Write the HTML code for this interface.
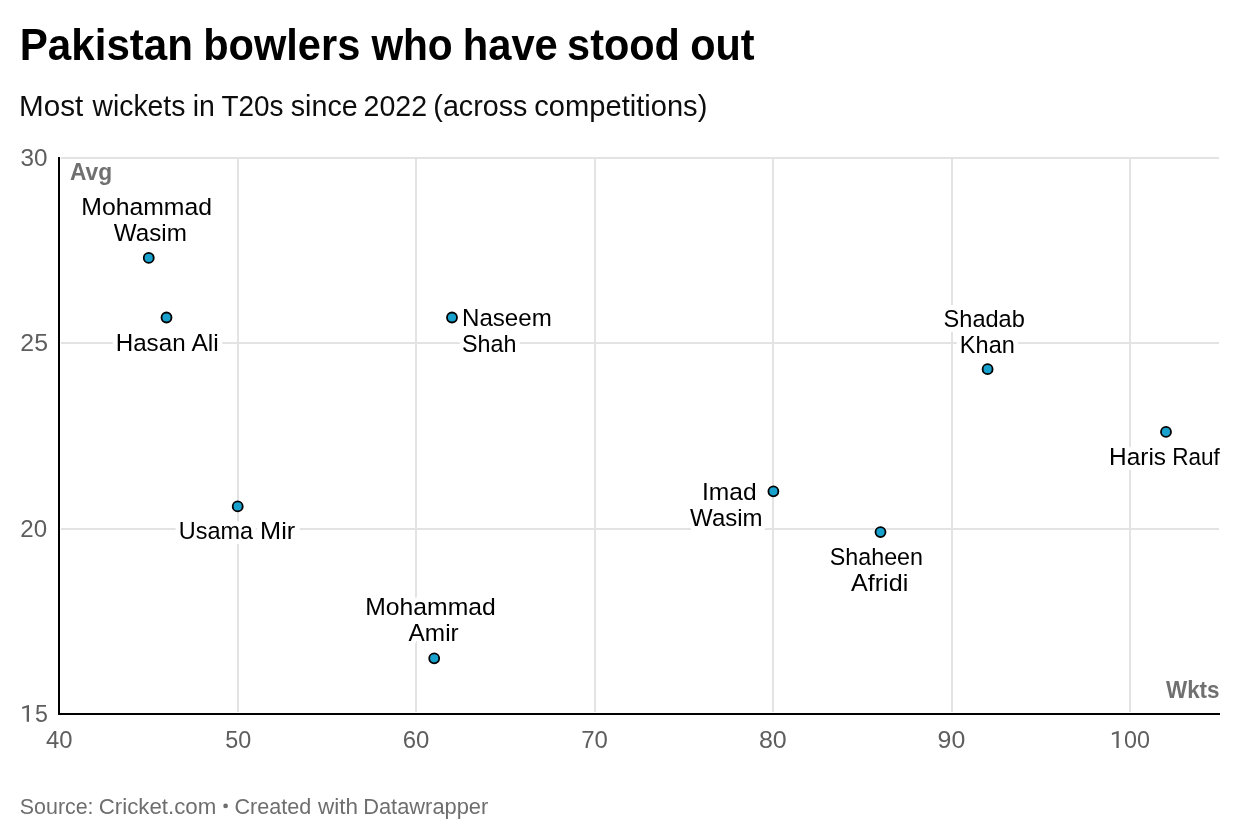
<!DOCTYPE html><html><head><meta charset="utf-8"><style>html,body{margin:0;padding:0;background:#fff;}svg{display:block;will-change:transform}text{font-family:"Liberation Sans",sans-serif;}</style></head><body>
<svg width="1240" height="840" viewBox="0 0 1240 840">
<rect width="1240" height="840" fill="#fff"/>
<rect x="61" y="157" width="1158" height="2" fill="#e3e3e3"/>
<rect x="61" y="342" width="1158" height="2" fill="#e3e3e3"/>
<rect x="61" y="528" width="1158" height="2" fill="#e3e3e3"/>
<rect x="237" y="159" width="2" height="553" fill="#e3e3e3"/>
<rect x="415" y="159" width="2" height="553" fill="#e3e3e3"/>
<rect x="594" y="159" width="2" height="553" fill="#e3e3e3"/>
<rect x="772" y="159" width="2" height="553" fill="#e3e3e3"/>
<rect x="951" y="159" width="2" height="553" fill="#e3e3e3"/>
<rect x="1129" y="159" width="2" height="553" fill="#e3e3e3"/>
<text x="81.35" y="215.10" font-size="24.3" textLength="130.67" lengthAdjust="spacingAndGlyphs" fill="#fff" stroke="#fff" stroke-width="10" stroke-linejoin="round">Mohammad</text>
<text x="113.83" y="240.70" font-size="24.3" textLength="73.07" lengthAdjust="spacingAndGlyphs" fill="#fff" stroke="#fff" stroke-width="10" stroke-linejoin="round">Wasim</text>
<text x="115.71" y="351.00" font-size="24.3" textLength="69.89" lengthAdjust="spacingAndGlyphs" fill="#fff" stroke="#fff" stroke-width="10" stroke-linejoin="round">Hasan</text>
<text x="191.42" y="351.00" font-size="24.3" textLength="27.45" lengthAdjust="spacingAndGlyphs" fill="#fff" stroke="#fff" stroke-width="10" stroke-linejoin="round">Ali</text>
<text x="462.00" y="326.00" font-size="24.3" textLength="89.77" lengthAdjust="spacingAndGlyphs" fill="#fff" stroke="#fff" stroke-width="10" stroke-linejoin="round">Naseem</text>
<text x="462.04" y="352.00" font-size="24.3" textLength="54.48" lengthAdjust="spacingAndGlyphs" fill="#fff" stroke="#fff" stroke-width="10" stroke-linejoin="round">Shah</text>
<text x="178.87" y="538.90" font-size="24.3" textLength="74.25" lengthAdjust="spacingAndGlyphs" fill="#fff" stroke="#fff" stroke-width="10" stroke-linejoin="round">Usama</text>
<text x="260.10" y="538.90" font-size="24.3" textLength="35.12" lengthAdjust="spacingAndGlyphs" fill="#fff" stroke="#fff" stroke-width="10" stroke-linejoin="round">Mir</text>
<text x="365.28" y="614.80" font-size="24.3" textLength="130.45" lengthAdjust="spacingAndGlyphs" fill="#fff" stroke="#fff" stroke-width="10" stroke-linejoin="round">Mohammad</text>
<text x="408.59" y="641.00" font-size="24.3" textLength="50.08" lengthAdjust="spacingAndGlyphs" fill="#fff" stroke="#fff" stroke-width="10" stroke-linejoin="round">Amir</text>
<text x="701.93" y="499.80" font-size="24.3" textLength="54.62" lengthAdjust="spacingAndGlyphs" fill="#fff" stroke="#fff" stroke-width="10" stroke-linejoin="round">Imad</text>
<text x="690.12" y="525.90" font-size="24.3" textLength="72.47" lengthAdjust="spacingAndGlyphs" fill="#fff" stroke="#fff" stroke-width="10" stroke-linejoin="round">Wasim</text>
<text x="829.82" y="564.70" font-size="24.3" textLength="93.17" lengthAdjust="spacingAndGlyphs" fill="#fff" stroke="#fff" stroke-width="10" stroke-linejoin="round">Shaheen</text>
<text x="850.97" y="590.80" font-size="24.3" textLength="57.29" lengthAdjust="spacingAndGlyphs" fill="#fff" stroke="#fff" stroke-width="10" stroke-linejoin="round">Afridi</text>
<text x="943.54" y="326.60" font-size="24.3" textLength="81.33" lengthAdjust="spacingAndGlyphs" fill="#fff" stroke="#fff" stroke-width="10" stroke-linejoin="round">Shadab</text>
<text x="959.87" y="353.00" font-size="24.3" textLength="54.96" lengthAdjust="spacingAndGlyphs" fill="#fff" stroke="#fff" stroke-width="10" stroke-linejoin="round">Khan</text>
<text x="1109.10" y="464.90" font-size="24.3" textLength="56.96" lengthAdjust="spacingAndGlyphs" fill="#fff" stroke="#fff" stroke-width="10" stroke-linejoin="round">Haris</text>
<text x="1172.18" y="464.90" font-size="24.3" textLength="47.64" lengthAdjust="spacingAndGlyphs" fill="#fff" stroke="#fff" stroke-width="10" stroke-linejoin="round">Rauf</text>
<rect x="58" y="157" width="2" height="558" fill="#000"/>
<rect x="58" y="713" width="1162" height="2" fill="#000"/>
<circle cx="148.75" cy="257.9" r="5" fill="#18a1cd" stroke="#000" stroke-width="1.8"/>
<circle cx="166.5" cy="317.5" r="5" fill="#18a1cd" stroke="#000" stroke-width="1.8"/>
<circle cx="452.0" cy="317.5" r="5" fill="#18a1cd" stroke="#000" stroke-width="1.8"/>
<circle cx="237.7" cy="506.4" r="5" fill="#18a1cd" stroke="#000" stroke-width="1.8"/>
<circle cx="434.2" cy="658.3" r="5" fill="#18a1cd" stroke="#000" stroke-width="1.8"/>
<circle cx="773.4" cy="491.3" r="5" fill="#18a1cd" stroke="#000" stroke-width="1.8"/>
<circle cx="880.5" cy="532.1" r="5" fill="#18a1cd" stroke="#000" stroke-width="1.8"/>
<circle cx="987.6" cy="369.2" r="5" fill="#18a1cd" stroke="#000" stroke-width="1.8"/>
<circle cx="1166.0" cy="431.9" r="5" fill="#18a1cd" stroke="#000" stroke-width="1.8"/>
<circle cx="225.6" cy="805.9" r="2.35" fill="#6e6e6e"/>
<path d="M29.00,705.00 L29.00,721.75 L26.70,721.75 L26.70,707.50 L22.40,709.00 L22.10,707.10 L28.40,705.00 Z" fill="#5e5e5e"/>
<path d="M1118.70,731.00 L1118.70,748.00 L1116.40,748.00 L1116.40,733.50 L1112.10,735.00 L1111.80,733.10 L1118.10,731.00 Z" fill="#5e5e5e"/>
<text x="19.79" y="60.00" font-size="45.0" font-weight="bold" textLength="173.25" lengthAdjust="spacingAndGlyphs" fill="#000000">Pakistan</text>
<text x="203.14" y="60.00" font-size="45.0" font-weight="bold" textLength="157.13" lengthAdjust="spacingAndGlyphs" fill="#000000">bowlers</text>
<text x="371.41" y="60.00" font-size="45.0" font-weight="bold" textLength="81.25" lengthAdjust="spacingAndGlyphs" fill="#000000">who</text>
<text x="462.78" y="60.00" font-size="45.0" font-weight="bold" textLength="95.03" lengthAdjust="spacingAndGlyphs" fill="#000000">have</text>
<text x="567.11" y="60.00" font-size="45.0" font-weight="bold" textLength="112.80" lengthAdjust="spacingAndGlyphs" fill="#000000">stood</text>
<text x="690.25" y="60.00" font-size="45.0" font-weight="bold" textLength="64.35" lengthAdjust="spacingAndGlyphs" fill="#000000">out</text>
<text x="19.04" y="116.00" font-size="28.8" textLength="64.23" lengthAdjust="spacingAndGlyphs" fill="#0d0d0d">Most</text>
<text x="92.57" y="116.00" font-size="28.8" textLength="92.84" lengthAdjust="spacingAndGlyphs" fill="#0d0d0d">wickets</text>
<text x="192.79" y="116.00" font-size="28.8" textLength="22.18" lengthAdjust="spacingAndGlyphs" fill="#0d0d0d">in</text>
<text x="221.40" y="116.00" font-size="28.8" textLength="62.09" lengthAdjust="spacingAndGlyphs" fill="#0d0d0d">T20s</text>
<text x="290.78" y="116.00" font-size="28.8" textLength="66.88" lengthAdjust="spacingAndGlyphs" fill="#0d0d0d">since</text>
<text x="363.56" y="116.00" font-size="28.8" textLength="63.53" lengthAdjust="spacingAndGlyphs" fill="#0d0d0d">2022</text>
<text x="433.33" y="116.00" font-size="28.8" textLength="94.08" lengthAdjust="spacingAndGlyphs" fill="#0d0d0d">(across</text>
<text x="534.31" y="116.00" font-size="28.8" textLength="173.06" lengthAdjust="spacingAndGlyphs" fill="#0d0d0d">competitions)</text>
<text x="20.40" y="166.00" font-size="24.3" textLength="27.00" lengthAdjust="spacingAndGlyphs" fill="#5e5e5e">30</text>
<text x="20.34" y="351.00" font-size="24.3" textLength="27.66" lengthAdjust="spacingAndGlyphs" fill="#5e5e5e">25</text>
<text x="20.24" y="536.90" font-size="24.3" textLength="26.80" lengthAdjust="spacingAndGlyphs" fill="#5e5e5e">20</text>
<text x="34.94" y="721.75" font-size="24.3" textLength="12.91" lengthAdjust="spacingAndGlyphs" fill="#5e5e5e">5</text>
<text x="46.08" y="748.00" font-size="24.3" textLength="26.52" lengthAdjust="spacingAndGlyphs" fill="#5e5e5e">40</text>
<text x="225.15" y="748.00" font-size="24.3" textLength="25.98" lengthAdjust="spacingAndGlyphs" fill="#5e5e5e">50</text>
<text x="402.82" y="748.00" font-size="24.3" textLength="26.62" lengthAdjust="spacingAndGlyphs" fill="#5e5e5e">60</text>
<text x="581.29" y="748.00" font-size="24.3" textLength="26.66" lengthAdjust="spacingAndGlyphs" fill="#5e5e5e">70</text>
<text x="758.94" y="748.00" font-size="24.3" textLength="27.81" lengthAdjust="spacingAndGlyphs" fill="#5e5e5e">80</text>
<text x="937.61" y="748.00" font-size="24.3" textLength="27.69" lengthAdjust="spacingAndGlyphs" fill="#5e5e5e">90</text>
<text x="1124.00" y="748.00" font-size="24.3" textLength="25.97" lengthAdjust="spacingAndGlyphs" fill="#5e5e5e">00</text>
<text x="69.95" y="179.80" font-size="24.5" font-weight="bold" textLength="42.21" lengthAdjust="spacingAndGlyphs" fill="#707070">Avg</text>
<text x="1165.97" y="697.70" font-size="24.5" font-weight="bold" textLength="53.61" lengthAdjust="spacingAndGlyphs" fill="#707070">Wkts</text>
<text x="81.35" y="215.10" font-size="24.3" textLength="130.67" lengthAdjust="spacingAndGlyphs" fill="#000000">Mohammad</text>
<text x="113.83" y="240.70" font-size="24.3" textLength="73.07" lengthAdjust="spacingAndGlyphs" fill="#000000">Wasim</text>
<text x="115.71" y="351.00" font-size="24.3" textLength="69.89" lengthAdjust="spacingAndGlyphs" fill="#000000">Hasan</text>
<text x="191.42" y="351.00" font-size="24.3" textLength="27.45" lengthAdjust="spacingAndGlyphs" fill="#000000">Ali</text>
<text x="462.00" y="326.00" font-size="24.3" textLength="89.77" lengthAdjust="spacingAndGlyphs" fill="#000000">Naseem</text>
<text x="462.04" y="352.00" font-size="24.3" textLength="54.48" lengthAdjust="spacingAndGlyphs" fill="#000000">Shah</text>
<text x="178.87" y="538.90" font-size="24.3" textLength="74.25" lengthAdjust="spacingAndGlyphs" fill="#000000">Usama</text>
<text x="260.10" y="538.90" font-size="24.3" textLength="35.12" lengthAdjust="spacingAndGlyphs" fill="#000000">Mir</text>
<text x="365.28" y="614.80" font-size="24.3" textLength="130.45" lengthAdjust="spacingAndGlyphs" fill="#000000">Mohammad</text>
<text x="408.59" y="641.00" font-size="24.3" textLength="50.08" lengthAdjust="spacingAndGlyphs" fill="#000000">Amir</text>
<text x="701.93" y="499.80" font-size="24.3" textLength="54.62" lengthAdjust="spacingAndGlyphs" fill="#000000">Imad</text>
<text x="690.12" y="525.90" font-size="24.3" textLength="72.47" lengthAdjust="spacingAndGlyphs" fill="#000000">Wasim</text>
<text x="829.82" y="564.70" font-size="24.3" textLength="93.17" lengthAdjust="spacingAndGlyphs" fill="#000000">Shaheen</text>
<text x="850.97" y="590.80" font-size="24.3" textLength="57.29" lengthAdjust="spacingAndGlyphs" fill="#000000">Afridi</text>
<text x="943.54" y="326.60" font-size="24.3" textLength="81.33" lengthAdjust="spacingAndGlyphs" fill="#000000">Shadab</text>
<text x="959.87" y="353.00" font-size="24.3" textLength="54.96" lengthAdjust="spacingAndGlyphs" fill="#000000">Khan</text>
<text x="1109.10" y="464.90" font-size="24.3" textLength="56.96" lengthAdjust="spacingAndGlyphs" fill="#000000">Haris</text>
<text x="1172.18" y="464.90" font-size="24.3" textLength="47.64" lengthAdjust="spacingAndGlyphs" fill="#000000">Rauf</text>
<text x="19.79" y="814.00" font-size="22.4" textLength="73.79" lengthAdjust="spacingAndGlyphs" fill="#6e6e6e">Source:</text>
<text x="98.69" y="814.00" font-size="22.4" textLength="117.63" lengthAdjust="spacingAndGlyphs" fill="#6e6e6e">Cricket.com</text>
<text x="234.43" y="814.00" font-size="22.4" textLength="76.80" lengthAdjust="spacingAndGlyphs" fill="#6e6e6e">Created</text>
<text x="318.07" y="814.00" font-size="22.4" textLength="40.02" lengthAdjust="spacingAndGlyphs" fill="#6e6e6e">with</text>
<text x="363.16" y="814.00" font-size="22.4" textLength="125.15" lengthAdjust="spacingAndGlyphs" fill="#6e6e6e">Datawrapper</text>
</svg></body></html>
